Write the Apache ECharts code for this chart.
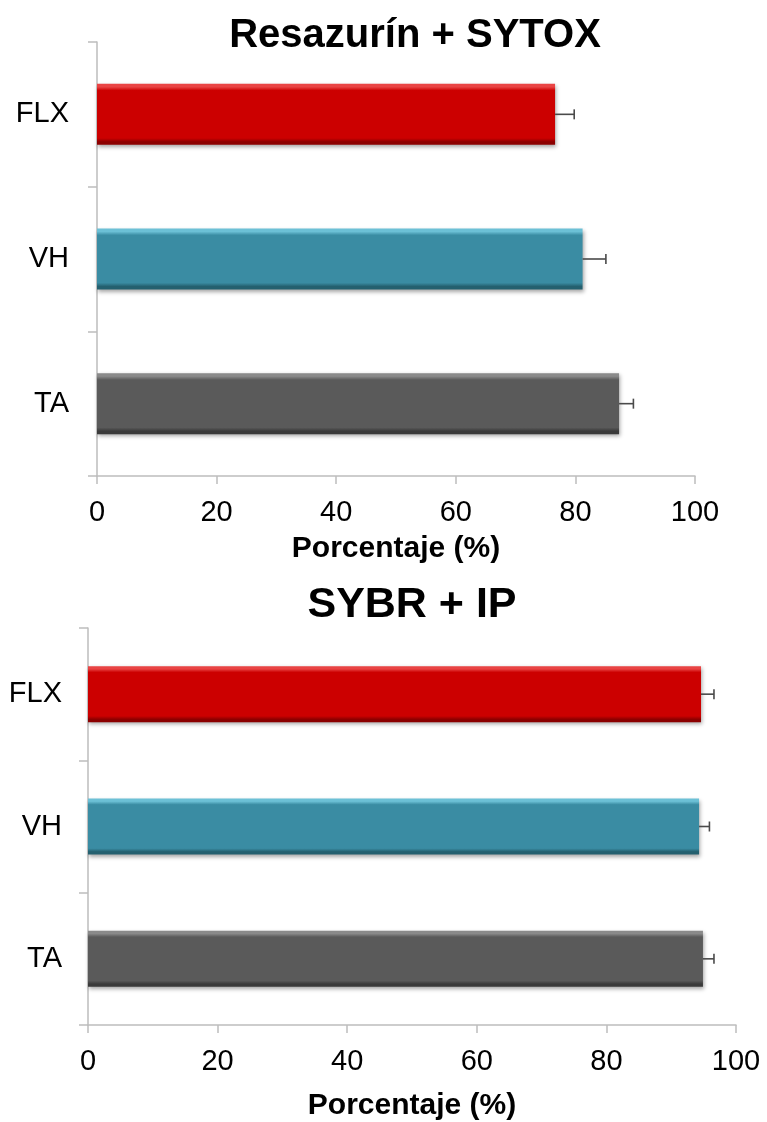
<!DOCTYPE html>
<html>
<head>
<meta charset="utf-8">
<title>Resazurín + SYTOX / SYBR + IP</title>
<script src="https://cdn.jsdelivr.net/npm/echarts@6/dist/echarts.min.js"></script>
<style>
  html, body { margin: 0; padding: 0; background: #ffffff; }
  #chart { width: 767px; height: 1122px; }
</style>
</head>
<body>
<div id="chart"></div>
<script>
// Groups shown on the vertical axis (top to bottom)
const categories = ['FLX', 'VH', 'TA'];

// Panel 1: Resazurín + SYTOX — mean percentage and error
const resazTitle = 'Resazurín + SYTOX';
const resazValues = [76.6, 81.2, 87.3];
const resazErrors = [3.2, 3.9, 2.4];

// Panel 2: SYBR + IP — mean percentage and error
const sybrTitle = 'SYBR + IP';
const sybrValues = [94.6, 94.3, 94.9];
const sybrErrors = [2.0, 1.6, 1.7];

// Percentage axis
const xMin = 0, xMax = 100, xStep = 20;
const xName = 'Porcentaje (%)';

const FONT = '"Liberation Sans", Arial, Helvetica, sans-serif';
const AXIS_GREY = '#bdbdbd';

// Bevelled fills: light top edge, main body, darker bottom edge
const fills = [
  { hi: '#e94444', main: '#cc0000', lo: '#8c0000' },
  { hi: '#6cc0d6', main: '#3a8ca3', lo: '#24606f' },
  { hi: '#8a8a8a', main: '#5a5a5a', lo: '#3a3a3a' }
];
function fillFor(i) {
  const f = fills[i];
  return new echarts.graphic.LinearGradient(0, 0, 0, 1, [
    { offset: 0, color: f.hi },
    { offset: 0.05, color: f.hi },
    { offset: 0.11, color: f.main },
    { offset: 0.89, color: f.main },
    { offset: 0.95, color: f.lo },
    { offset: 1, color: f.lo }
  ]);
}

function barData(values) {
  return values.map((v, i) => ({
    value: v,
    itemStyle: {
      color: fillFor(i),
      shadowColor: 'rgba(0,0,0,0.35)',
      shadowBlur: 4,
      shadowOffsetX: 1,
      shadowOffsetY: 2
    }
  }));
}

// Error whisker: line from bar end to mean + error, with a vertical cap
function errorRender(params, api) {
  const v = api.value(0);
  const e = api.value(1);
  const c = api.value(2);
  const start = api.coord([v, c]);
  const end = api.coord([v + e, c]);
  const capHalf = 5;
  const style = { stroke: '#4a4a4a', lineWidth: 1.6 };
  return {
    type: 'group',
    children: [
      { type: 'line', shape: { x1: start[0], y1: start[1], x2: end[0], y2: end[1] }, style },
      { type: 'line', shape: { x1: end[0], y1: end[1] - capHalf, x2: end[0], y2: end[1] + capHalf }, style }
    ]
  };
}

function errorData(values, errors) {
  return values.map((v, i) => [v, errors[i], i]);
}

function xAxisFor(gridIndex, nameGap, labelMargin) {
  return {
    type: 'value', gridIndex,
    min: xMin, max: xMax, interval: xStep,
    name: xName, nameLocation: 'middle', nameGap,
    nameTextStyle: { fontFamily: FONT, fontSize: 30, fontWeight: 'bold', color: '#000' },
    axisLine: { show: true, lineStyle: { color: AXIS_GREY, width: 1.5 } },
    axisTick: { show: true, length: 8, lineStyle: { color: AXIS_GREY, width: 1.5 } },
    axisLabel: { fontFamily: FONT, fontSize: 29, color: '#000', margin: labelMargin },
    splitLine: { show: false }
  };
}

function yAxisFor(gridIndex, margin) {
  return {
    type: 'category', gridIndex, data: categories, inverse: true,
    boundaryGap: true,
    axisLine: { show: true, lineStyle: { color: AXIS_GREY, width: 1.5 } },
    axisTick: { show: true, length: 9, alignWithLabel: false, lineStyle: { color: AXIS_GREY, width: 1.5 } },
    axisLabel: { fontFamily: FONT, fontSize: 29, color: '#000', margin },
    splitLine: { show: false }
  };
}

const chart = echarts.init(document.getElementById('chart'), null, { renderer: 'canvas' });
chart.setOption({
  backgroundColor: '#ffffff',
  animation: false,
  title: [
    { text: resazTitle, left: 410, top: 11, textAlign: 'center',
      textStyle: { fontFamily: FONT, fontSize: 40, fontWeight: 'bold', color: '#000' } },
    { text: sybrTitle, left: 407, top: 579, textAlign: 'center',
      textStyle: { fontFamily: FONT, fontSize: 43, fontWeight: 'bold', color: '#000' } }
  ],
  grid: [
    { left: 97, right: 72, top: 42, height: 434 },
    { left: 88, right: 31, top: 628, height: 400 }
  ],
  xAxis: [xAxisFor(0, 58, 22), xAxisFor(1, 66, 22)],
  yAxis: [yAxisFor(0, 28), yAxisFor(1, 26)],
  series: [
    { type: 'bar', xAxisIndex: 0, yAxisIndex: 0, barWidth: 61, data: barData(resazValues) },
    { type: 'custom', xAxisIndex: 0, yAxisIndex: 0, renderItem: errorRender,
      encode: { x: 0, y: 2 }, data: errorData(resazValues, resazErrors), z: 5 },
    { type: 'bar', xAxisIndex: 1, yAxisIndex: 1, barWidth: 56, data: barData(sybrValues) },
    { type: 'custom', xAxisIndex: 1, yAxisIndex: 1, renderItem: errorRender,
      encode: { x: 0, y: 2 }, data: errorData(sybrValues, sybrErrors), z: 5 }
  ]
});
</script>
</body>
</html>
